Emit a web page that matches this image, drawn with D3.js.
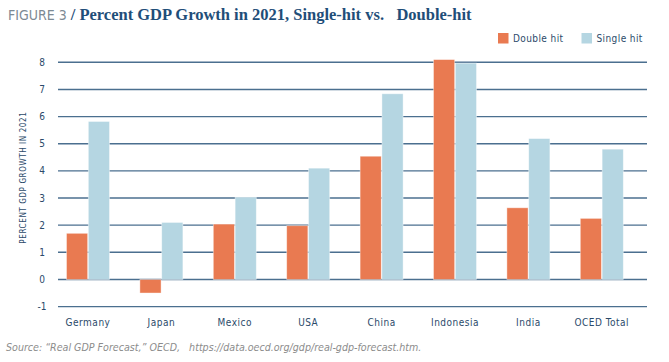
<!DOCTYPE html>
<html>
<head>
<meta charset="utf-8">
<script src="https://cdn.jsdelivr.net/npm/d3@7"></script>
<style>
  body { margin: 0; background: #fff; }
  text { font-family: "Liberation Sans Narrow", "DejaVu Sans Condensed", sans-serif; }
</style>
</head>
<body>
<div id="chart"></div>
<script>
// data
const countries = ["Germany", "Japan", "Mexico", "USA", "China", "Indonesia", "India", "OCED Total"];
const series = ["Double hit", "Single hit"];
const doubleHit = [1.7, -0.5, 2.04, 1.98, 4.54, 8.1, 2.64, 2.25];
const singleHit = [5.82, 2.1, 3.03, 4.1, 6.84, 7.97, 5.19, 4.8];
const yTicks = [-1, 0, 1, 2, 3, 4, 5, 6, 7, 8];
const colors = ["#e97a51", "#b5d6e2"];

const width = 669, height = 362;

const svg = d3.select("#chart").append("svg")
  .attr("width", width)
  .attr("height", height);

// scales
const x0 = d3.scaleBand()
  .domain(countries)
  .range([51.3, 638.5]);

const x1 = d3.scaleBand()
  .domain(series)
  .range([x0.bandwidth() / 2 - 21.5, x0.bandwidth() / 2 + 21.5])
  .paddingInner(0.03);

const y = d3.scaleLinear()
  .domain([-1, 8])
  .range([306.6, 62.3]);

// gridlines
svg.append("g")
  .selectAll("line")
  .data(yTicks)
  .enter()
  .append("line")
  .attr("x1", 58)
  .attr("x2", 647)
  .attr("y1", d => y(d))
  .attr("y2", d => y(d))
  .style("stroke", "#4b6f8f")
  .style("stroke-width", 1.4);

// y tick labels
svg.append("g")
  .selectAll("text")
  .data(yTicks)
  .enter()
  .append("text")
  .attr("x", 42)
  .attr("y", d => y(d) + 3.5)
  .style("text-anchor", "middle")
  .style("font-size", "10px")
  .style("fill", "#2b4a6a")
  .text(d => d);

// y axis title
svg.append("text")
  .attr("transform", `translate(26, ${y(3.75)}) rotate(-90)`)
  .style("text-anchor", "middle")
  .style("font-size", "8px")
  .style("letter-spacing", "0.6px")
  .style("fill", "#2b4a6a")
  .text("PERCENT GDP GROWTH IN 2021");

// bars
const rows = countries.map((c, i) => ({ country: c, values: [doubleHit[i], singleHit[i]] }));

const groups = svg.append("g")
  .selectAll("g")
  .data(rows)
  .enter()
  .append("g")
  .attr("transform", d => `translate(${x0(d.country)},0)`);

groups.selectAll("rect")
  .data(d => d.values.map((v, j) => ({ key: series[j], value: v, j: j })))
  .enter()
  .append("rect")
  .attr("x", d => x1(d.key))
  .attr("y", d => y(Math.max(0, d.value)))
  .attr("width", x1.bandwidth())
  .attr("height", d => Math.abs(y(d.value) - y(0)))
  .style("fill", d => colors[d.j])
  .style("stroke", "#ffffff")
  .style("stroke-opacity", 0.5)
  .style("stroke-width", 0.8);

// x labels
svg.append("g")
  .selectAll("text")
  .data(countries)
  .enter()
  .append("text")
  .attr("x", d => x0(d) + x0.bandwidth() / 2)
  .attr("y", 326)
  .style("text-anchor", "middle")
  .style("font-size", "10px")
  .style("letter-spacing", "0.5px")
  .style("fill", "#2b4a6a")
  .text(d => d);

// title
const title = svg.append("text")
  .attr("x", 8)
  .attr("y", 20);
title.append("tspan")
  .style("font-size", "14px")
  .style("fill", "#7d8a94")
  .text("FIGURE 3 ");
title.append("tspan")
  .style("font-family", "'Liberation Serif', serif")
  .style("font-weight", "bold")
  .style("font-size", "16.5px")
  .style("fill", "#1f4e79")
  .style("white-space", "pre")
  .text("/ Percent GDP Growth in 2021, Single-hit vs.\u00a0\u00a0\u00a0Double-hit");

// legend
const legend = svg.append("g")
  .selectAll("g")
  .data(series)
  .enter()
  .append("g")
  .attr("transform", (d, i) => `translate(${498 + i * 83.5},33)`);

legend.append("rect")
  .attr("width", 10.5)
  .attr("height", 10.5)
  .style("fill", (d, i) => colors[i]);

legend.append("text")
  .attr("x", 15)
  .attr("y", 9)
  .style("font-size", "10px")
  .style("letter-spacing", "0.4px")
  .style("fill", "#2b4a6a")
  .text(d => d);

// source
svg.append("text")
  .attr("x", 6)
  .attr("y", 351)
  .style("font-size", "10.6px")
  .style("font-style", "italic")
  .style("fill", "#8c8c8c")
  .style("white-space", "pre")
  .text("Source: \u201cReal GDP Forecast,\u201d OECD,\u00a0\u00a0\u00a0https://data.oecd.org/gdp/real-gdp-forecast.htm.");
</script>
</body>
</html>
